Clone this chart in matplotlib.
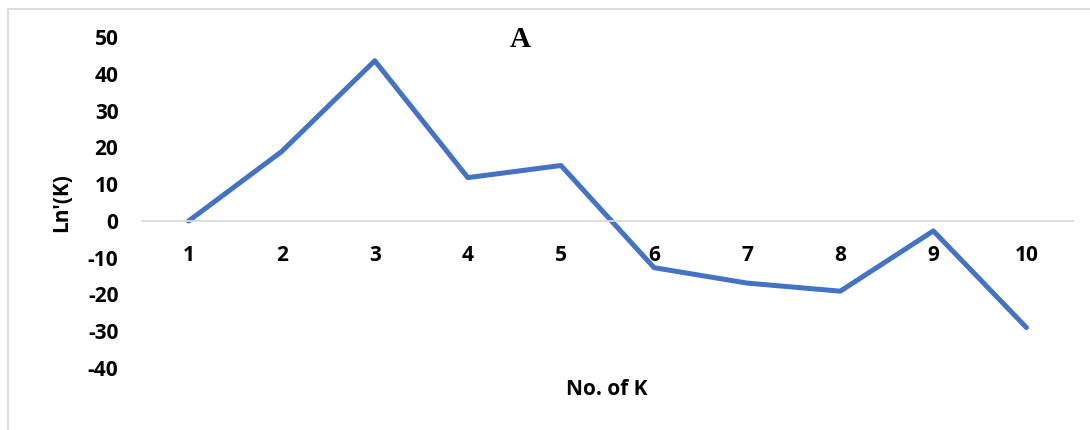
import matplotlib
matplotlib.use("Agg")
import matplotlib.pyplot as plt
from matplotlib.patches import Rectangle

# Values of Ln'(K) for each number of clusters K
k_values = [1, 2, 3, 4, 5, 6, 7, 8, 9, 10]
ln_prime = [0.0, 18.9, 43.6, 11.8, 15.1, -12.7, -16.9, -19.1, -2.7, -29.0]
y_ticks = [-40, -30, -20, -10, 0, 10, 20, 30, 40, 50]

plt.rcParams["axes.unicode_minus"] = False

LABEL_FONT = "Open Sans"
LABEL_SIZE = 15
LINE_COLOR = "#4472C4"

fig = plt.figure(figsize=(10.9, 4.3), dpi=100)
ax = fig.add_axes([0.1303, 0.1442, 0.8541, 0.7692])

ax.plot(k_values, ln_prime, color=LINE_COLOR, linewidth=3.6,
        solid_capstyle="round", solid_joinstyle="round")

ax.set_xlim(0.5, 10.5)
ax.set_ylim(-40, 50)
ax.set_yticks(y_ticks)
ax.set_xticks(k_values)
ax.set_xticklabels([str(k) for k in k_values])

for side in ("top", "right", "left"):
    ax.spines[side].set_visible(False)
ax.spines["bottom"].set_position(("data", 0))
ax.spines["bottom"].set_color("#d9d9d9")
ax.spines["bottom"].set_linewidth(1.3)

ax.tick_params(axis="x", length=0, pad=17)
ax.tick_params(axis="y", length=0, pad=17)
for lbl in ax.get_xticklabels() + ax.get_yticklabels():
    lbl.set_fontfamily(LABEL_FONT)
    lbl.set_fontweight("bold")
    lbl.set_fontsize(LABEL_SIZE)

ax.set_ylabel("Ln'(K)", fontfamily=LABEL_FONT, fontweight="bold",
              fontsize=LABEL_SIZE, labelpad=11)
fig.text(0.557, 0.095, "No. of K", fontfamily=LABEL_FONT, fontweight="bold",
         fontsize=LABEL_SIZE, ha="center", va="center")
fig.text(0.477, 0.907, "A", fontfamily="Liberation Serif", fontweight="bold",
         fontsize=21, ha="center", va="center")

# Light frame around the chart area
fig.patches.append(Rectangle((8 / 1090, -0.1), 1.2, 1.1 - 9.5 / 430,
                             transform=fig.transFigure, fill=False,
                             edgecolor="#d9d9d9", linewidth=1.3))

fig.savefig("out.png", dpi=100, facecolor="white")
